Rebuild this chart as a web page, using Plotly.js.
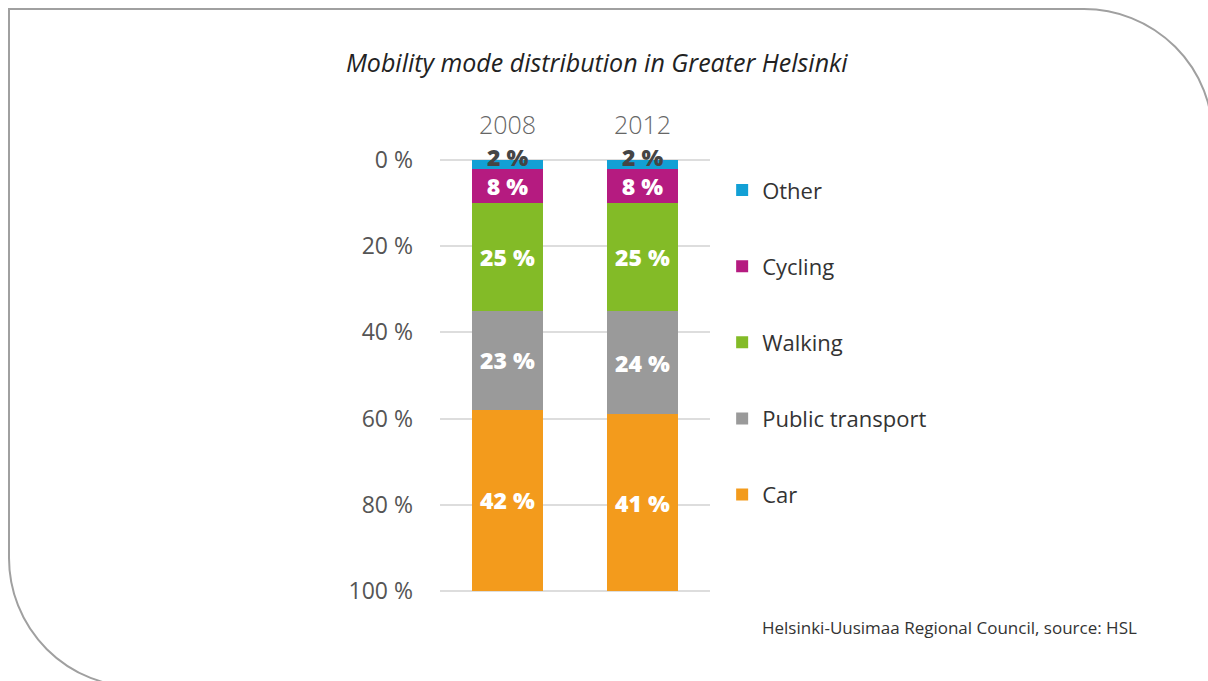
<!DOCTYPE html>
<html>
<head>
<meta charset="utf-8">
<script src="https://cdn.plot.ly/plotly-3.0.1.min.js"></script>
<style>
  html, body { margin:0; padding:0; background:#ffffff; width:1208px; height:681px; overflow:hidden; }
  #frame { position:absolute; left:8px; top:8px; width:1206px; height:680px; box-sizing:border-box;
           border:2px solid #a0a0a0; border-radius:0 130px 0 130px; }
  #chart { position:absolute; left:0; top:0; width:1208px; height:681px; }
</style>
</head>
<body>
<div id="frame"></div>
<div id="chart"></div>
<script>
// ---- data ----
const years = ['2008', '2012'];
const other = [2, 2];
const cycling = [8, 8];
const walking = [25, 25];
const publicTransport = [23, 24];
const car = [42, 41];
const tickValues = [0, 20, 40, 60, 80, 100];
const tickLabels = ['0 %', '20 %', '40 %', '60 %', '80 %', '100 %'];

const FONT = '"Open Sans", "Noto Sans", sans-serif';

function barTrace(name, values, color, showText) {
  return {
    type: 'bar', name: name, x: years, y: values, legendgroup: name,
    marker: { color: color, line: { width: 0 } },
    text: showText ? values.map(v => v + ' %') : null,
    textposition: showText ? 'inside' : 'none',
    insidetextanchor: 'middle',
    textangle: 0,
    constraintext: 'none',
    insidetextfont: { family: FONT, size: 23, color: '#ffffff', weight: 800 },
    hoverinfo: 'name+y'
  };
}

const data = [
  barTrace('Other', other, '#12a0d5', false),
  barTrace('Cycling', cycling, '#b51b80', true),
  barTrace('Walking', walking, '#83bb27', true),
  barTrace('Public transport', publicTransport, '#9a9a9a', true),
  barTrace('Car', car, '#f39b1c', true)
];

const annotations = years.map((yr, i) => ({
  x: i, y: other[i] / 2, xref: 'x', yref: 'y', text: other[i] + ' %', showarrow: false,
  xanchor: 'center', yanchor: 'middle', yshift: 7,
  font: { family: FONT, size: 23, color: '#454545', weight: 800 }
}));
annotations.push({
  xref: 'paper', yref: 'paper', x: 1.185, y: -0.08, xanchor: 'left', yanchor: 'middle',
  text: 'Helsinki-Uusimaa Regional Council, source: HSL', showarrow: false,
  font: { family: FONT, size: 17, color: '#333333' }
});

const layout = {
  width: 1208, height: 681,
  paper_bgcolor: 'rgba(0,0,0,0)', plot_bgcolor: 'rgba(0,0,0,0)',
  margin: { l: 440, r: 498, t: 158, b: 88 },
  barmode: 'stack', bargap: 0.474,
  title: { text: '<i>Mobility mode distribution in Greater Helsinki</i>',
           x: 0.494, xref: 'container', xanchor: 'center', y: 0.907, yref: 'container', yanchor: 'middle',
           font: { family: FONT, size: 25, color: '#222222' } },
  xaxis: { side: 'top', type: 'category', range: [-0.5, 1.5], showgrid: false, zeroline: false,
           showline: false, ticks: '', ticklabelstandoff: 18,
           tickfont: { family: FONT, size: 25, color: '#666666', weight: 300 } },
  yaxis: { autorange: false, range: [100.5, -0.5], tickvals: tickValues, ticktext: tickLabels,
           showgrid: true, gridcolor: '#dddddd', gridwidth: 2, zeroline: false, showline: false,
           ticks: '', ticklabelstandoff: 26,
           tickfont: { family: FONT, size: 23, color: '#555555' } },
  showlegend: true,
  legend: { x: 1.045, xanchor: 'left', y: 0.974, yanchor: 'top', traceorder: 'grouped',
            tracegroupgap: 44.5, itemwidth: 30,
            font: { family: FONT, size: 22, color: '#333333' }, bgcolor: 'rgba(0,0,0,0)' },
  annotations: annotations
};

Plotly.newPlot('chart', data, layout, { displayModeBar: false, staticPlot: true });
</script>
</body>
</html>
